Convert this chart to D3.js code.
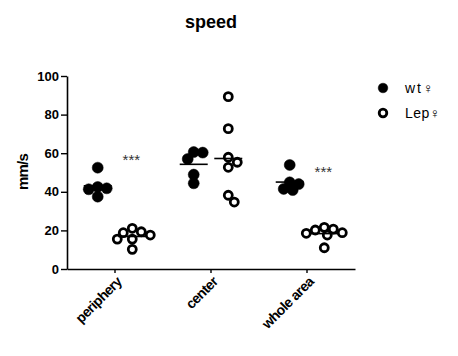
<!DOCTYPE html>
<html><head><meta charset="utf-8">
<script src="https://cdn.jsdelivr.net/npm/d3@7"></script>
<style>body{margin:0;background:#fff}svg{display:block;font-family:"Liberation Sans",Arial,sans-serif}</style>
</head><body><svg id="c" width="458" height="356"></svg>
<script>
const title = "speed";
const yLabel = "mm/s";
const categories = ["periphery", "center", "whole area"];
const seriesNames = ["wt\u2640", "Lep\u2640"];
const yTicks = [0, 20, 40, 60, 80, 100];
// individual animals, per category
const wtValues = [
  [52.5, 41.8, 37.5, 41.3, 42.5],
  [60.3, 57.0, 60.6, 48.9, 44.4],
  [53.9, 44.0, 40.9, 41.5, 44.9]
];
const lepValues = [
  [21.1, 15.5, 18.8, 10.2, 17.6, 15.5, 19.3],
  [89.3, 72.7, 55.3, 57.9, 52.7, 38.2, 34.7],
  [21.6, 20.2, 20.7, 18.5, 17.6, 18.8, 11.0]
];
const significance = ["***", "", "***"];
const sigLevel = [58, null, 52];

const svg = d3.select("#c");
const x = d3.scaleBand().domain(categories).range([67, 355]).paddingInner(0).paddingOuter(0);
const y = d3.scaleLinear().domain([0, 100]).range([269, 76]);
const groupOffset = d3.scalePoint().domain(seriesNames).range([-0.18, 0.18]);
const r = 5.5;

// title
svg.append("text").attr("x", 211).attr("y", 28).attr("text-anchor", "middle")
  .attr("font-size", 18).attr("font-weight", "bold").text(title);

// y axis
const ya = svg.append("g").attr("transform", "translate(67,0)")
  .call(d3.axisLeft(y).tickValues(yTicks).tickSize(6).tickPadding(2).tickSizeOuter(0));
ya.select(".domain").attr("stroke-width", 1.6);
ya.selectAll(".tick line").attr("stroke-width", 1.4);
ya.selectAll("text").attr("font-size", 13).attr("font-weight", "bold").attr("fill", "#000").attr("font-family", "Liberation Sans, Arial");

svg.append("text").attr("transform", "translate(28,172) rotate(-90)").attr("text-anchor", "middle")
  .attr("font-size", 15).attr("font-weight", "bold").attr("letter-spacing", -0.8).text(yLabel);

// x axis
const xa = svg.append("g").attr("transform", "translate(0,269)")
  .call(d3.axisBottom(x).tickSize(4).tickSizeOuter(0).tickPadding(4));
xa.select(".domain").attr("stroke-width", 1.6);
xa.selectAll(".tick line").attr("stroke-width", 1.4);
xa.selectAll("text").attr("font-size", 14).attr("font-weight", "bold").attr("fill", "#000")
  .attr("font-family", "Liberation Sans, Arial").attr("letter-spacing", -0.6)
  .attr("text-anchor", "end").attr("dy", "0.3em")
  .attr("transform", "translate(-1,5) rotate(-45)");

// dodge layout for scatter columns (points may overlap slightly)
function dodge(values, cx) {
  const placed = [];
  const minDist = 8, step = 3;
  const sorted = values.map((v, i) => ({ v, i, py: y(v) })).sort((a, b) => b.v - a.v);
  sorted.forEach(p => {
    for (let k = 0; k < 60; k++) {
      const off = (k % 2 === 1 ? 1 : -1) * Math.ceil(k / 2) * step;
      const px = cx + off;
      if (placed.every(q => Math.hypot(q.px - px, q.py - p.py) >= minDist)) { p.px = px; break; }
    }
    placed.push(p);
  });
  return placed;
}

const seriesData = [wtValues, lepValues];
seriesData.forEach((vals, s) => {
  const name = seriesNames[s];
  categories.forEach((cat, ci) => {
    const cx = x(cat) + x.bandwidth() / 2 + groupOffset(name) * x.bandwidth();
    const pts = dodge(vals[ci], cx);
    const mean = d3.mean(vals[ci]);
    svg.append("line").attr("x1", cx - 14).attr("x2", cx + 14)
      .attr("y1", y(mean)).attr("y2", y(mean)).attr("stroke", "#000").attr("stroke-width", 1.6);
    svg.append("g").selectAll("circle").data(pts).join("circle")
      .attr("cx", d => d.px).attr("cy", d => d.py)
      .attr("r", s === 0 ? r : r - 1.5)
      .attr("fill", s === 0 ? "#000" : "none")
      .attr("stroke", "#000").attr("stroke-width", s === 0 ? 0.5 : 2.8);
  });
});

// significance
categories.forEach((cat, ci) => {
  if (!significance[ci]) return;
  svg.append("text").attr("x", x(cat) + x.bandwidth() * 0.67).attr("y", y(sigLevel[ci]) + 8)
    .attr("text-anchor", "middle").attr("font-size", 15).attr("fill", "#333").text(significance[ci]);
});

// legend
const lg = svg.append("g");
seriesNames.forEach((n, i) => {
  const ly = 88 + i * 25;
  lg.append("circle").attr("cx", 383).attr("cy", ly).attr("r", i === 0 ? 4.8 : 3.8)
    .attr("fill", i === 0 ? "#000" : "none").attr("stroke", "#000").attr("stroke-width", i === 0 ? 0.5 : 2.8);
  lg.append("text").attr("x", 405).attr("y", ly + 5).attr("font-size", 14).attr("letter-spacing", i === 0 ? 2 : 0.5).text(n);
});
</script></body></html>
